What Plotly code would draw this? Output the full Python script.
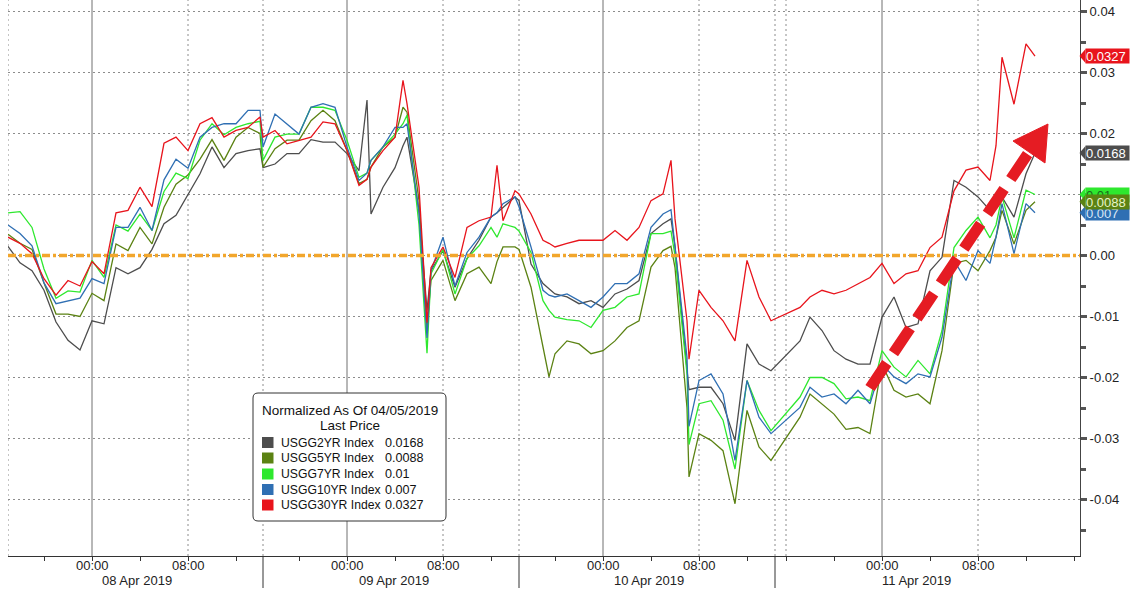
import plotly.graph_objects as go
import pandas as pd

# ---------------- data ----------------
times = [
 "2019-04-07 17:00","2019-04-07 18:00","2019-04-07 19:00","2019-04-07 20:00","2019-04-07 21:00","2019-04-07 22:00","2019-04-07 23:00",
 "2019-04-08 00:00","2019-04-08 01:00","2019-04-08 02:00","2019-04-08 03:00","2019-04-08 04:00","2019-04-08 05:00","2019-04-08 06:00",
 "2019-04-08 07:00","2019-04-08 08:00","2019-04-08 09:00","2019-04-08 10:00","2019-04-08 11:00","2019-04-08 12:00","2019-04-08 13:00","2019-04-08 14:00",
 "2019-04-08 17:00","2019-04-08 18:00","2019-04-08 19:00","2019-04-08 20:00","2019-04-08 21:00","2019-04-08 22:00","2019-04-08 23:00",
 "2019-04-09 00:00","2019-04-09 01:00","2019-04-09 01:40","2019-04-09 02:00","2019-04-09 03:00","2019-04-09 04:00","2019-04-09 04:40","2019-04-09 05:00",
 "2019-04-09 06:00","2019-04-09 06:40","2019-04-09 07:00","2019-04-09 08:00","2019-04-09 09:00","2019-04-09 10:00","2019-04-09 11:00",
 "2019-04-09 12:00","2019-04-09 12:30","2019-04-09 13:00","2019-04-09 14:00",
 "2019-04-09 17:00","2019-04-09 18:00","2019-04-09 19:00","2019-04-09 19:30","2019-04-09 20:00","2019-04-09 21:00","2019-04-09 22:00","2019-04-09 23:00",
 "2019-04-10 00:00","2019-04-10 01:00","2019-04-10 02:00","2019-04-10 03:00","2019-04-10 04:00","2019-04-10 05:00","2019-04-10 05:40",
 "2019-04-10 06:00","2019-04-10 07:00","2019-04-10 07:10","2019-04-10 08:00","2019-04-10 09:00","2019-04-10 10:00","2019-04-10 11:00",
 "2019-04-10 12:00","2019-04-10 13:00","2019-04-10 14:00",
 "2019-04-10 17:10","2019-04-10 18:00","2019-04-10 19:00","2019-04-10 20:00","2019-04-10 21:00","2019-04-10 22:00","2019-04-10 23:00",
 "2019-04-11 00:00","2019-04-11 01:00","2019-04-11 02:00","2019-04-11 03:00","2019-04-11 04:00","2019-04-11 05:00","2019-04-11 06:00",
 "2019-04-11 07:00","2019-04-11 08:00","2019-04-11 09:00","2019-04-11 09:30","2019-04-11 10:00","2019-04-11 11:00","2019-04-11 12:00","2019-04-11 12:45",
]

usgg2yr = [
 0.0015,-0.0012,-0.0025,-0.0057,-0.0109,-0.0139,-0.0155,-0.0107,-0.0112,-0.0020,-0.0030,-0.0020,0.0010,0.0052,0.0066,0.0101,0.0134,0.0178,0.0144,0.0167,0.0172,0.0175,
 0.0144,0.0150,0.0167,0.0167,0.0190,0.0186,0.0186,0.0167,0.0139,0.0255,0.0068,0.0112,0.0144,0.0180,0.0194,0.0074,-0.0090,-0.0025,0.0008,-0.0052,-0.0005,0.0025,0.0063,0.0070,0.0079,0.0096,
 0.0090,-0.0014,-0.0046,-0.0055,-0.0063,-0.0068,-0.0079,-0.0074,
 -0.0085,-0.0063,-0.0055,-0.0041,0.0036,0.0052,0.0060,0.0015,-0.0190,-0.0220,-0.0216,-0.0216,-0.0243,-0.0303,-0.0145,-0.0178,-0.0189,
 -0.0140,-0.0101,-0.0123,-0.0156,-0.0170,-0.0178,-0.0178,
 -0.0101,-0.0068,-0.0118,-0.0112,-0.0025,-0.0003,0.0123,0.0112,0.0096,0.0074,0.0080,0.0096,0.0063,0.0134,0.0168]

usgg5yr = [
 0.0035,0.0020,0.0010,-0.0045,-0.0096,-0.0096,-0.0100,-0.0062,-0.0074,0.0019,0.0008,0.0046,0.0019,0.0079,0.0117,0.0132,0.0158,0.0190,0.0156,0.0194,0.0210,0.0200,
 0.0145,0.0175,0.0189,0.0189,0.0221,0.0238,0.0221,0.0172,0.0118,0.0125,0.0145,0.0178,0.0194,0.0243,0.0235,0.0090,-0.0120,-0.0041,-0.0008,-0.0074,-0.0030,-0.0019,-0.0046,-0.0010,0.0014,0.0014,
 0.0010,-0.0052,-0.0150,-0.0199,-0.0161,-0.0140,-0.0145,-0.0161,
 -0.0156,-0.0140,-0.0118,-0.0107,-0.0019,0.0008,0.0015,-0.0020,-0.0250,-0.0363,-0.0292,-0.0303,-0.0320,-0.0407,-0.0254,-0.0314,-0.0336,
 -0.0265,-0.0227,-0.0243,-0.0260,-0.0285,-0.0282,-0.0292,
 -0.0178,-0.0221,-0.0232,-0.0227,-0.0243,-0.0156,-0.0013,-0.0008,-0.0025,0.0008,0.0030,0.0074,0.0019,0.0074,0.0088]

usgg7yr = [
 0.0070,0.0072,0.0046,-0.0022,-0.0070,-0.0058,-0.0060,-0.0008,-0.0036,0.0050,0.0040,0.0068,0.0041,0.0105,0.0135,0.0126,0.0189,0.0216,0.0198,0.0210,0.0216,0.0220,
 0.0156,0.0194,0.0199,0.0199,0.0243,0.0243,0.0238,0.0189,0.0128,0.0135,0.0156,0.0178,0.0199,0.0216,0.0230,0.0050,-0.0160,-0.0030,0.0010,-0.0063,-0.0005,0.0016,0.0046,0.0030,0.0052,0.0046,
 0.0040,0.0005,-0.0074,-0.0090,-0.0101,-0.0105,-0.0107,-0.0118,
 -0.0090,-0.0085,-0.0068,-0.0063,0.0036,0.0036,0.0040,0.0000,-0.0194,-0.0310,-0.0243,-0.0238,-0.0270,-0.0350,-0.0205,-0.0254,-0.0287,
 -0.0232,-0.0200,-0.0200,-0.0210,-0.0235,-0.0232,-0.0238,
 -0.0156,-0.0183,-0.0199,-0.0172,-0.0194,-0.0123,0.0013,0.0041,0.0063,0.0029,0.0050,0.0096,0.0029,0.0107,0.0100]

usgg10yr = [
 0.0050,0.0036,0.0016,-0.0045,-0.0079,-0.0074,-0.0070,-0.0038,-0.0046,0.0046,0.0046,0.0079,0.0041,0.0124,0.0158,0.0143,0.0194,0.0210,0.0216,0.0216,0.0238,0.0238,
 0.0178,0.0232,0.0216,0.0199,0.0243,0.0249,0.0243,0.0178,0.0123,0.0135,0.0156,0.0178,0.0210,0.0210,0.0216,0.0070,-0.0135,-0.0025,0.0030,-0.0050,0.0005,0.0030,0.0063,0.0070,0.0085,0.0096,
 0.0080,0.0014,-0.0057,-0.0065,-0.0068,-0.0063,-0.0074,-0.0085,
 -0.0068,-0.0046,-0.0046,-0.0030,0.0046,0.0068,0.0075,0.0015,-0.0167,-0.0280,-0.0205,-0.0194,-0.0227,-0.0336,-0.0205,-0.0265,-0.0292,
 -0.0249,-0.0216,-0.0232,-0.0227,-0.0243,-0.0221,-0.0243,
 -0.0178,-0.0199,-0.0210,-0.0194,-0.0199,-0.0134,-0.0008,-0.0041,0.0008,-0.0013,0.0030,0.0085,0.0003,0.0085,0.0070]

usgg30yr = [
 0.0030,0.0020,0.0003,-0.0038,-0.0065,-0.0041,-0.0050,-0.0010,-0.0030,0.0070,0.0074,0.0112,0.0080,0.0184,0.0194,0.0172,0.0216,0.0226,0.0194,0.0205,0.0210,0.0227,
 0.0194,0.0205,0.0183,0.0189,0.0194,0.0219,0.0216,0.0172,0.0115,0.0125,0.0145,0.0172,0.0194,0.0287,0.0249,0.0112,-0.0110,-0.0020,0.0014,-0.0036,0.0046,0.0057,0.0063,0.0148,0.0057,0.0106,
 0.0101,0.0068,0.0025,0.0020,0.0014,0.0020,0.0025,0.0025,
 0.0025,0.0041,0.0025,0.0046,0.0090,0.0101,0.0156,0.0060,-0.0107,-0.0170,-0.0057,-0.0085,-0.0107,-0.0140,-0.0008,-0.0068,-0.0107,
 -0.0085,-0.0068,-0.0057,-0.0063,-0.0057,-0.0046,-0.0036,
 -0.0013,-0.0046,-0.0030,-0.0025,0.0013,0.0030,0.0106,0.0140,0.0145,0.0123,0.0180,0.0325,0.0248,0.0347,0.0327]

series_names = ["USGG2YR Index", "USGG5YR Index", "USGG7YR Index", "USGG10YR Index", "USGG30YR Index"]
series_values = [usgg2yr, usgg5yr, usgg7yr, usgg10yr, usgg30yr]
series_colors = ["#4d4d4d", "#5b8213", "#2ee82e", "#2f6fb3", "#e8141c"]
label_text_colors = ["#ffffff", "#e8f5c8", "#1a6a1a", "#dce8f8", "#ffffff"]

legend_title = "Normalized As Of 04/05/2019"
legend_subtitle = "Last Price"
y_ticks = [-0.04, -0.03, -0.02, -0.01, 0.0, 0.01, 0.02, 0.03, 0.04]
y_ticktext = ["-0.04", "-0.03", "-0.02", "-0.01", "0.00", "0.01", "0.02", "0.03", "0.04"]
date_labels = ["08 Apr 2019", "09 Apr 2019", "10 Apr 2019", "11 Apr 2019"]
date_label_pos = ["2019-04-08 03:45", "2019-04-09 03:55", "2019-04-10 03:50", "2019-04-11 02:50"]
session_breaks = [("2019-04-08 14:15", 2.75), ("2019-04-09 14:20", 2 + 40 / 60), ("2019-04-10 14:20", 0.75)]

# ---------------- layout helpers ----------------
W, H = 1136, 593
L, R, T, B = 8, 1080, 0, 556
HOUR = 3600000

def px(x):
    return (x - L) / (R - L)

def py(y):
    return (B - y) / (B - T)

FONT = "Liberation Sans, Arial, sans-serif"

fig = go.Figure()
for name, vals, col in zip(series_names, series_values, series_colors):
    fig.add_trace(go.Scatter(x=times, y=vals, mode="lines", name=name,
                             line=dict(color=col, width=1.3), showlegend=False,
                             hoverinfo="skip"))

# x ticks every 4h, excluding hidden periods
brk = [(pd.Timestamp(s), pd.Timestamp(s) + pd.Timedelta(hours=h)) for s, h in session_breaks]
tick_times = []
for t in pd.date_range("2019-04-07 20:00", "2019-04-11 16:00", freq="4h"):
    if any(a <= t < b for a, b in brk):
        continue
    tick_times.append(t)

shapes = []
annotations = []

# time labels under the ticks
for t in tick_times:
    if t.hour in (0, 8):
        annotations.append(dict(x=t, y=py(565.5), xref="x", yref="paper", text=t.strftime("%H:%M"),
                                showarrow=False, xanchor="center", yanchor="middle",
                                font=dict(size=13, color="#222", family=FONT)))

# vertical grid lines
solid_v = ["2019-04-08 00:00", "2019-04-09 00:00", "2019-04-10 00:00", "2019-04-11 00:00"]
dotted_v = ["2019-04-07 17:00", "2019-04-08 08:00", "2019-04-08 17:00", "2019-04-09 08:00",
            "2019-04-09 17:00", "2019-04-10 08:00", "2019-04-10 15:05", "2019-04-10 16:00",
            "2019-04-11 08:00"]
for t in solid_v:
    shapes.append(dict(type="line", xref="x", yref="paper", x0=t, x1=t, y0=0, y1=1,
                       line=dict(color="#707070", width=1), layer="below"))
for t in dotted_v:
    shapes.append(dict(type="line", xref="x", yref="paper", x0=t, x1=t, y0=0, y1=1,
                       line=dict(color="#8c8c8c", width=1, dash="2px,3px"), layer="below"))
# session separators below the axis
for t in ["2019-04-08 17:00", "2019-04-09 17:00", "2019-04-10 15:05"]:
    shapes.append(dict(type="line", xref="x", yref="paper", x0=t, x1=t, y0=0, y1=py(588),
                       line=dict(color="#333333", width=1), layer="above"))

# orange zero line
shapes.append(dict(type="line", xref="paper", yref="y", x0=0, x1=1, y0=0, y1=0,
                   line=dict(color="#f2a62c", width=3.5, dash="8px,3px,3px,3px"), layer="above"))

# red dashed arrow
shapes.append(dict(type="line", xref="paper", yref="paper",
                   x0=px(870), y0=py(388), x1=px(1029), y1=py(152),
                   line=dict(color="#e51c23", width=11, dash="30px,12px"), layer="above"))
shapes.append(dict(type="path", xref="paper", yref="paper",
                   path=f"M {px(1048)} {py(124)} L {px(1045)} {py(163)} L {px(1013)} {py(141)} Z",
                   fillcolor="#e51c23", line=dict(color="#e51c23", width=1), layer="above"))

# legend box
def rrect(x0, y0, x1, y1, r):
    pts = [
        f"M {px(x0 + r)} {py(y0)}", f"L {px(x1 - r)} {py(y0)}",
        f"Q {px(x1)} {py(y0)} {px(x1)} {py(y0 + r)}", f"L {px(x1)} {py(y1 - r)}",
        f"Q {px(x1)} {py(y1)} {px(x1 - r)} {py(y1)}", f"L {px(x0 + r)} {py(y1)}",
        f"Q {px(x0)} {py(y1)} {px(x0)} {py(y1 - r)}", f"L {px(x0)} {py(y0 + r)}",
        f"Q {px(x0)} {py(y0)} {px(x0 + r)} {py(y0)}", "Z"]
    return " ".join(pts)

shapes.append(dict(type="path", xref="paper", yref="paper", path=rrect(253, 393, 446, 521, 5),
                   fillcolor="white", line=dict(color="#333333", width=1), layer="above"))

annotations.append(dict(x=px(350), y=py(410.5), xref="paper", yref="paper", text=legend_title,
                        showarrow=False, xanchor="center", yanchor="middle",
                        font=dict(size=13.5, color="#111", family=FONT)))
annotations.append(dict(x=px(350), y=py(425.5), xref="paper", yref="paper", text=legend_subtitle,
                        showarrow=False, xanchor="center", yanchor="middle",
                        font=dict(size=13.5, color="#111", family=FONT)))
row_y = [442.5, 458, 474, 489.5, 505]
for ry, name, vals, col in zip(row_y, series_names, series_values, series_colors):
    shapes.append(dict(type="rect", xref="paper", yref="paper",
                       x0=px(262), x1=px(273.5), y0=py(ry - 5.5), y1=py(ry + 5.5),
                       fillcolor=col, line=dict(width=0), layer="above"))
    annotations.append(dict(x=px(278.5), y=py(ry), xref="paper", yref="paper", text=name,
                            showarrow=False, xanchor="left", yanchor="middle",
                            font=dict(size=12.2, color="#111", family=FONT)))
    annotations.append(dict(x=px(382.5), y=py(ry), xref="paper", yref="paper", text=f"{vals[-1]:g}",
                            showarrow=False, xanchor="left", yanchor="middle",
                            font=dict(size=12.6, color="#111", family=FONT)))

# date labels
for lab, pos in zip(date_labels, date_label_pos):
    annotations.append(dict(x=pos, y=py(580), xref="x", yref="paper", text=lab, showarrow=False,
                            xanchor="center", yanchor="middle",
                            font=dict(size=13, color="#222", family=FONT)))

# last value boxes on the right axis (olive drawn last, on top)
order = [4, 0, 2, 3, 1]
dv = 7.0 / 6100
for i in order:
    v = series_values[i][-1]
    col = series_colors[i]
    shapes.append(dict(type="path", xref="paper", yref="y",
                       path=f"M {px(1079.5)} {v} L {px(1085.5)} {v + dv} L {px(1085.5)} {v - dv} Z",
                       fillcolor=col, line=dict(width=0), layer="above"))
    annotations.append(dict(x=px(1085), y=v, xref="paper", yref="y", text=f"{v:g}",
                            showarrow=False, xanchor="left", yanchor="middle", align="left",
                            bgcolor=col, borderpad=0, width=43, height=14,
                            font=dict(size=13, color=label_text_colors[i], family=FONT)))

fig.update_layout(
    width=W, height=H,
    margin=dict(l=L, r=W - R, t=T, b=H - B),
    paper_bgcolor="white", plot_bgcolor="white",
    showlegend=False, hovermode=False,
    font=dict(family=FONT, size=13, color="#222"),
    shapes=shapes, annotations=annotations,
    xaxis=dict(
        type="date", range=["2019-04-07 17:00", "2019-04-11 16:30"],
        rangebreaks=[dict(values=[s], dvalue=h * HOUR) for s, h in session_breaks],
        tickmode="array", tickvals=tick_times, showticklabels=False,
        ticks="outside", ticklen=4, tickcolor="#333", tickwidth=1,
        showgrid=False, zeroline=False, showline=True, linecolor="#333", linewidth=1,
        fixedrange=True,
    ),
    yaxis=dict(
        side="right", range=[-(B - 255.5) / 6100, 255.5 / 6100],
        tickmode="array", tickvals=y_ticks, ticktext=y_ticktext,
        ticks="outside", ticklen=6, tickwidth=3, tickcolor="#555",
        showgrid=True, gridcolor="#8c8c8c", gridwidth=1, griddash="2px,3px",
        zeroline=False, showline=True, linecolor="#444", linewidth=1,
        tickfont=dict(size=13, color="#222", family=FONT),
        minor=dict(tickvals=[-0.045, -0.035, -0.025, -0.015, -0.005, 0.005, 0.015, 0.025, 0.035],
                   ticks="outside", ticklen=5, tickcolor="#555", showgrid=False),
        fixedrange=True,
    ),
)

fig.write_html("out.html", config={"displayModeBar": False},
               post_script="document.body.style.margin='0px';")
